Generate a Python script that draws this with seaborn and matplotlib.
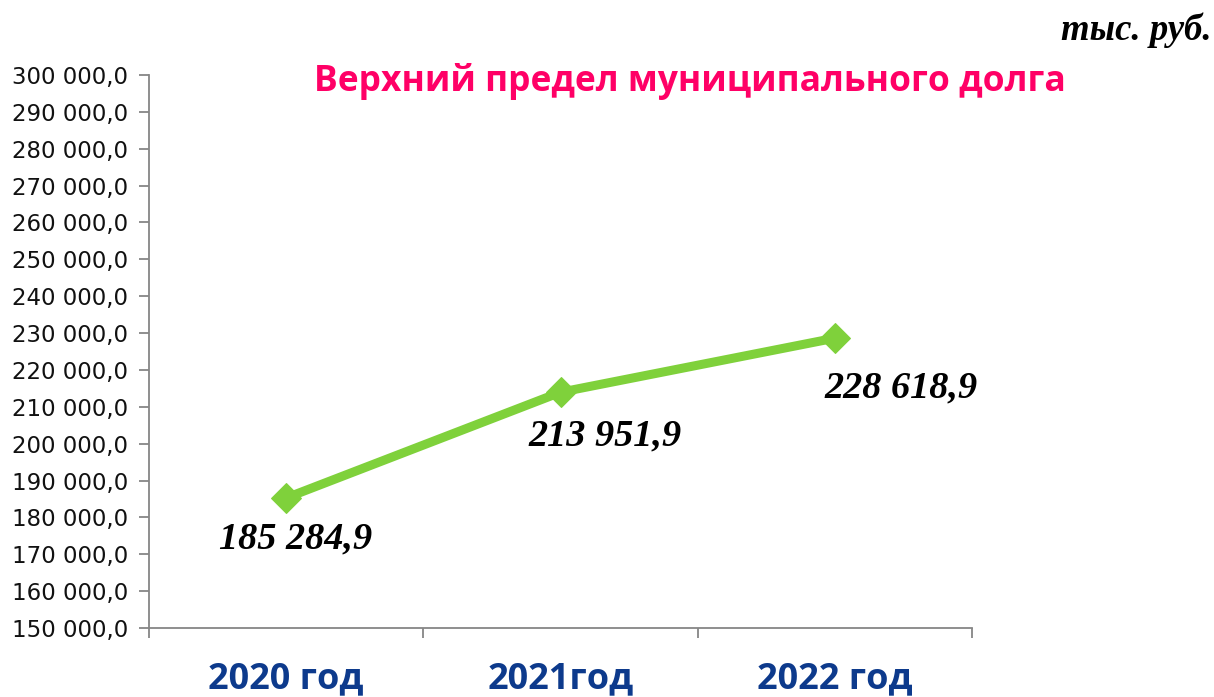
import matplotlib
matplotlib.use("Agg")
import matplotlib.pyplot as plt
import seaborn as sns
import pandas as pd
import numpy as np
from matplotlib.ticker import FixedLocator, FuncFormatter

categories = ["2020 год", "2021год", "2022 год"]
values = [185284.9, 213951.9, 228618.9]
value_labels = ["185 284,9", "213 951,9", "228 618,9"]
title_text = "Верхний предел муниципального долга"
unit_text = "тыс. руб."
y_ticks = list(range(150000, 300001, 10000))

sns.set_theme(style="white")
plt.rcParams['font.family'] = ['DejaVu Sans']

df = pd.DataFrame({"cat": categories, "val": values})

fig = plt.figure(figsize=(12.14, 6.97), dpi=100)
ax = fig.add_axes([149/1214, 1-628/697, (972-149)/1214, (628-75)/697])

green = "#7FD13B"
sns.lineplot(data=df, x="cat", y="val", ax=ax, color=green, linewidth=6.5,
             marker="D", markersize=15, markeredgecolor=green, sort=False)

ax.set_xlim(-0.5, 2.5)
ax.set_ylim(150000, 300000)
ax.set_xlabel("")
ax.set_ylabel("")

def fmt(v, pos):
    return f"{int(v):,}".replace(",", " ") + ",0"

ax.yaxis.set_major_locator(FixedLocator(y_ticks))
ax.yaxis.set_major_formatter(FuncFormatter(fmt))
ax.tick_params(axis="y", which="major", direction="out", length=7, width=1.3,
               color="#868686", left=True, labelsize=16.5, pad=8, labelcolor="#111111")

# x: major ticks at category boundaries, labels on minor ticks at centers
ax.xaxis.set_major_locator(FixedLocator([-0.5, 0.5, 1.5, 2.5]))
ax.xaxis.set_major_formatter(FuncFormatter(lambda v, p: ""))
ax.xaxis.set_minor_locator(FixedLocator([0, 1, 2]))
ax.xaxis.set_minor_formatter(FuncFormatter(lambda v, p: categories[int(round(v))]))
ax.tick_params(axis="x", which="major", direction="out", length=7, width=1.3,
               color="#868686", bottom=True)
ax.tick_params(axis="x", which="minor", length=0, pad=24, labelsize=26,
               labelcolor="#0D3A8C")
for lab in ax.xaxis.get_minorticklabels():
    lab.set_fontweight("bold")
    lab.set_family(["Open Sans", "DejaVu Sans"])

for s in ["top", "right"]:
    ax.spines[s].set_visible(False)
for s in ["left", "bottom"]:
    ax.spines[s].set_color("#868686")
    ax.spines[s].set_linewidth(1.3)
ax.grid(False)

offsets = [(6.5, -29.5), (32, -31.5), (47.5, -36)]
for i, (v, lab) in enumerate(zip(values, value_labels)):
    ax.annotate(lab, xy=(i, v), xytext=offsets[i], textcoords="offset points",
                ha="center", va="center", fontsize=27.5, fontweight="bold",
                fontstyle="italic", family=["Liberation Serif"], color="black")

fig.text(690/1214, 1-82/697, title_text, ha="center", va="center",
         fontsize=25.5, fontweight="bold", color="#FF0066",
         family=["Open Sans", "DejaVu Sans"])
fig.text(1212/1214, 1-30/697, unit_text, ha="right", va="center",
         fontsize=26.5, fontweight="bold", fontstyle="italic",
         family=["Liberation Serif"], color="black")

fig.savefig("out.png", dpi=100)
